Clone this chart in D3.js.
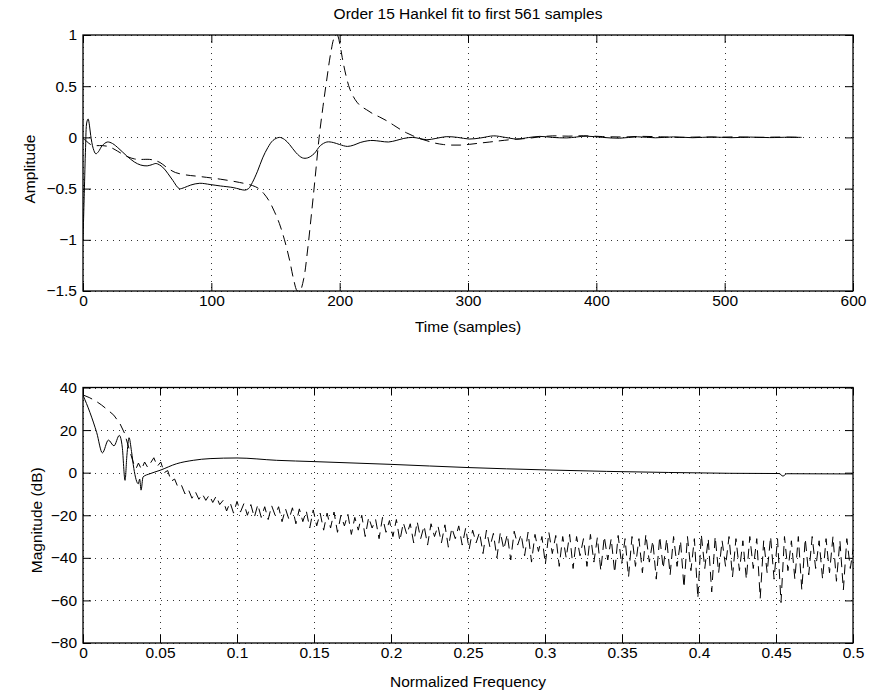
<!DOCTYPE html>
<html><head><meta charset="utf-8">
<script src="https://cdn.jsdelivr.net/npm/d3@7"></script>
<style>
body{margin:0;background:#fff;}
svg text{font-family:"Liberation Sans",Arial,Helvetica,sans-serif;fill:#000;}
</style></head>
<body>
<svg id="chart" width="890" height="691"></svg>
<script>
// ---------- DATA ----------
const titleText = "Order 15 Hankel fit to first 561 samples";
const timeTicks = [0,100,200,300,400,500,600];
const ampTicks = [-1.5,-1,-0.5,0,0.5,1];
const freqTicks = [0,0.05,0.1,0.15,0.2,0.25,0.3,0.35,0.4,0.45,0.5];
const magTicks = [-80,-60,-40,-20,0,20,40];

// top: solid (Hankel fit impulse response)
const fitSamples = [0,1,2,3,4,5,6,8,10,12,15,19,23,28,34,40,45,50,54,57,62,66,70,75,79,84,91,99,107,117,122,126,129,132,136,140,144,148,153,157,161,166,171,175,180,185,190,195,200,206,211,216,222,226,232,238,244,250,257,262,268,275,283,292,301,310,320,329,338,347,356,366,377,392,405,418,432,446,460,475,490,505,520,535,550,560];
const fitAmp = [-1.0,-0.55,-0.1,0.15,0.18,0.12,0.02,-0.11,-0.16,-0.14,-0.08,-0.045,-0.06,-0.11,-0.18,-0.24,-0.27,-0.278,-0.265,-0.255,-0.29,-0.35,-0.42,-0.5,-0.49,-0.465,-0.448,-0.46,-0.474,-0.49,-0.505,-0.515,-0.5,-0.44,-0.33,-0.2,-0.1,-0.03,0.0,-0.02,-0.07,-0.15,-0.2,-0.2,-0.16,-0.08,-0.045,-0.05,-0.07,-0.088,-0.075,-0.05,-0.033,-0.03,-0.038,-0.045,-0.03,-0.01,0.0,-0.01,-0.023,-0.01,0.007,0.0,-0.016,-0.005,0.015,0.0,-0.016,-0.002,0.01,0.0,-0.005,0.012,0.0,-0.008,0.006,-0.004,0.005,-0.003,0.004,-0.003,0.003,-0.002,0.002,0.0];

// top: dashed (original impulse response)
const origSamples = [0,3,6,10,15,20,25,29,35,40,43,52,56,60,66,72,80,91,107,122,132,137,141,145,149,153,157,161,164,167,169,172,175,178,181,184,187,190,193,196,198,200,202,205,208,212,216,221,226,231,237,242,247,252,257,262,268,274,281,287,294,301,309,317,325,335,346,356,366,378,390,405,420,435,450,465,480,495,510,525,540,560];
const origAmp = [-0.01,-0.04,-0.07,-0.08,-0.08,-0.09,-0.12,-0.15,-0.19,-0.21,-0.215,-0.215,-0.225,-0.245,-0.3,-0.343,-0.366,-0.382,-0.408,-0.44,-0.47,-0.5,-0.55,-0.62,-0.72,-0.84,-1.0,-1.2,-1.38,-1.5,-1.5,-1.38,-1.1,-0.75,-0.38,0.0,0.3,0.57,0.82,0.98,1.0,0.92,0.78,0.6,0.47,0.37,0.31,0.27,0.23,0.2,0.16,0.12,0.08,0.045,0.016,-0.01,-0.033,-0.055,-0.07,-0.075,-0.075,-0.068,-0.056,-0.045,-0.033,-0.02,-0.01,0.005,0.015,0.012,0.016,0.008,0.004,0.01,0.006,0.0,0.004,0.002,0.005,0.0,0.003,0.0];

// bottom: solid (Hankel fit magnitude)
const fitFreq = [0,0.0045,0.0089,0.0126,0.0165,0.0201,0.0236,0.0255,0.0273,0.0285,0.0299,0.0315,0.033,0.0359,0.0368,0.0377,0.039,0.0435,0.05,0.0608,0.0716,0.0825,0.1,0.1258,0.15,0.2,0.25,0.3,0.34,0.38,0.42,0.452,0.4545,0.457,0.5];
const fitMag = [36.4,28.3,18.8,9.3,15.3,12.6,17.5,12,-3.6,8,16.4,10,2,-5.2,-3,-8.2,-2,-0.5,1.1,4.2,5.8,6.6,6.9,5.8,5.2,3.9,2.4,1.3,0.6,0.1,-0.3,-0.4,-1.6,-0.5,-0.6];

// bottom: dashed (original magnitude), low-frequency part
const origLowFreq = [0,0.004,0.008,0.012,0.016,0.02,0.024,0.027,0.03,0.033,0.0345,0.036,0.038,0.04,0.042];
const origLowMag = [36.5,35.3,33.8,31.8,29.5,27,23,18.5,11,4,2,4.5,1.5,5,2.5];
// dashed ripple part, read on a uniform frequency grid
const rippleStart = 0.046, rippleStep = 0.00225;
const origRippleMag = [
 7,3,5,0,1,-4,-3,-7,-6,-10,
 -8,-12,-9,-12.5,-10,-13,-10.5,-14,-11,-15,
 -13,-18,-14,-19,-13.5,-18.5,-14.5,-20,-15,-21,
 -15,-21,-16,-22,-15.5,-20,-16,-23,-17,-22,
 -16.5,-24,-17,-23,-18,-26,-17.5,-25,-19,-27,
 -19,-26,-18.5,-28,-20,-25,-19.5,-29,-21,-27,
 -20,-30,-21,-26,-22,-31,-21,-28,-22.5,-30,
 -22,-32,-23.5,-29,-24,-33,-23,-31,-25,-34,
 -24,-30,-25,-33,-24.5,-35,-26,-31,-25,-34,
 -26,-36,-27,-33,-28,-38,-27,-35,-28.5,-40,
 -28,-36,-29,-41,-27.5,-34,-29,-39,-28,-42,
 -29,-37,-30,-43,-28,-38,-29.5,-44,-30,-40,
 -29,-45,-30,-39,-31,-44,-29,-42,-30.5,-46,
 -30,-41,-31,-47,-29.5,-43,-31,-49,-30,-44,
 -31,-47,-29,-42,-32,-50,-30,-45,-31,-48,
 -30,-44,-32,-54,-30,-46,-31,-59,-29,-45,
 -31,-56,-30,-47,-32,-44,-30,-49,-31,-46,
 -32,-50,-30,-45,-31,-59,-32,-47,-30,-50,
 -31,-61,-30,-46,-32,-50,-30,-55,-31,-48,
 -30,-45,-32,-50,-31,-47,-30,-51,-32,-55,
 -31,-45,-34
];

// ---------- LAYOUT ----------
const svg = d3.select("#chart");
const L = 83, R = 853;
const top1 = 35, bot1 = 291;
const top2 = 387.5, bot2 = 643;
const fontSize = 15.5;

const xT = d3.scaleLinear().domain([0,600]).range([L,R]);
const yA = d3.scaleLinear().domain([-1.5,1]).range([bot1,top1]);
const xF = d3.scaleLinear().domain([0,0.5]).range([L,R]);
const yM = d3.scaleLinear().domain([-80,40]).range([bot2,top2]);

const fmt = d => d3.format("~g")(d).replace("-", "\u2212");

function panel(x, y, xTicks, yTicks, id) {
  const g = svg.append("g");
  const [x0,x1] = x.range(), [y0,y1] = y.range();
  const grid = g.append("g").attr("stroke","#333").attr("stroke-width",1)
    .attr("stroke-dasharray","1,5").attr("shape-rendering","crispEdges");
  grid.selectAll(".gx").data(xTicks).join("line")
    .attr("x1",d=>Math.round(x(d))+0.5).attr("x2",d=>Math.round(x(d))+0.5)
    .attr("y1",y1).attr("y2",y0);
  grid.selectAll(".gy").data(yTicks).join("line")
    .attr("y1",d=>Math.round(y(d))+0.5).attr("y2",d=>Math.round(y(d))+0.5)
    .attr("x1",x0).attr("x2",x1);
  svg.append("clipPath").attr("id",id).append("rect")
    .attr("x",x0).attr("y",y1-1).attr("width",x1-x0).attr("height",y0-y1+2);
  return g;
}

function axes(g, x, y, xTicks, yTicks) {
  const [x0,x1] = x.range(), [y0,y1] = y.range();
  const tick = 8;
  g.append("g").attr("transform",`translate(0,${y0})`)
    .call(d3.axisBottom(x).tickValues(xTicks).tickFormat(fmt).tickSizeInner(-tick).tickSizeOuter(0).tickPadding(4));
  g.append("g").attr("transform",`translate(0,${y1})`)
    .call(d3.axisTop(x).tickValues(xTicks).tickFormat("").tickSizeInner(-tick).tickSizeOuter(0));
  g.append("g").attr("transform",`translate(${x0},0)`)
    .call(d3.axisLeft(y).tickValues(yTicks).tickFormat(fmt).tickSizeInner(-tick).tickSizeOuter(0).tickPadding(6));
  g.append("g").attr("transform",`translate(${x1},0)`)
    .call(d3.axisRight(y).tickValues(yTicks).tickFormat("").tickSizeInner(-tick).tickSizeOuter(0));
  g.selectAll(".domain").remove();
  g.selectAll(".tick line").attr("stroke","#000");
  g.selectAll(".tick text").attr("font-size",fontSize).attr("font-family",'"Liberation Sans",Arial,sans-serif');
  g.append("rect").attr("x",x0).attr("y",y1).attr("width",x1-x0).attr("height",y0-y1)
    .attr("fill","none").attr("stroke","#000").attr("stroke-width",1.3);
}

// ---------- TOP PANEL ----------
const g1 = panel(xT, yA, timeTicks, ampTicks, "clip1");
const lineT = d3.line().x(d=>xT(d[0])).y(d=>yA(d[1])).curve(d3.curveCatmullRom.alpha(0.5));
const fitTop = fitSamples.map((s,i)=>[s,fitAmp[i]]);
const origTop = origSamples.map((s,i)=>[s,origAmp[i]]);
const lines1 = g1.append("g").attr("clip-path","url(#clip1)");
lines1.append("path").attr("d",lineT(origTop)).attr("fill","none").attr("stroke","#000")
  .attr("stroke-width",1).attr("stroke-dasharray","10,6");
lines1.append("path").attr("d",lineT(fitTop)).attr("fill","none").attr("stroke","#000").attr("stroke-width",1);
axes(g1, xT, yA, timeTicks, ampTicks);

// ---------- BOTTOM PANEL ----------
const g2 = panel(xF, yM, freqTicks, magTicks, "clip2");
const lineF = d3.line().x(d=>xF(d[0])).y(d=>yM(d[1]));
const fitBot = fitFreq.map((f,i)=>[f,fitMag[i]]);
const origBot = origLowFreq.map((f,i)=>[f,origLowMag[i]])
  .concat(origRippleMag.map((m,i)=>[rippleStart+i*rippleStep, m]));
const lines2 = g2.append("g").attr("clip-path","url(#clip2)");
lines2.append("path").attr("d",lineF(origBot)).attr("fill","none").attr("stroke","#000")
  .attr("stroke-width",1).attr("stroke-dasharray","10,6");
lines2.append("path").attr("d",lineF.curve(d3.curveMonotoneX)(fitBot)).attr("fill","none").attr("stroke","#000").attr("stroke-width",1);
axes(g2, xF, yM, freqTicks, magTicks);

// ---------- TEXT ----------
svg.append("text").attr("x",(L+R)/2).attr("y",19).attr("text-anchor","middle")
  .attr("font-size",fontSize).text(titleText);
svg.append("text").attr("x",(L+R)/2).attr("y",332).attr("text-anchor","middle")
  .attr("font-size",fontSize).text("Time (samples)");
svg.append("text").attr("x",(L+R)/2).attr("y",687).attr("text-anchor","middle")
  .attr("font-size",fontSize).text("Normalized Frequency");
svg.append("text").attr("transform",`translate(35,${(top1+bot1)/2+6}) rotate(-90)`)
  .attr("text-anchor","middle").attr("font-size",fontSize).text("Amplitude");
svg.append("text").attr("transform",`translate(42,${(top2+bot2)/2+5}) rotate(-90)`)
  .attr("text-anchor","middle").attr("font-size",fontSize).text("Magnitude (dB)");
</script>
</body></html>
